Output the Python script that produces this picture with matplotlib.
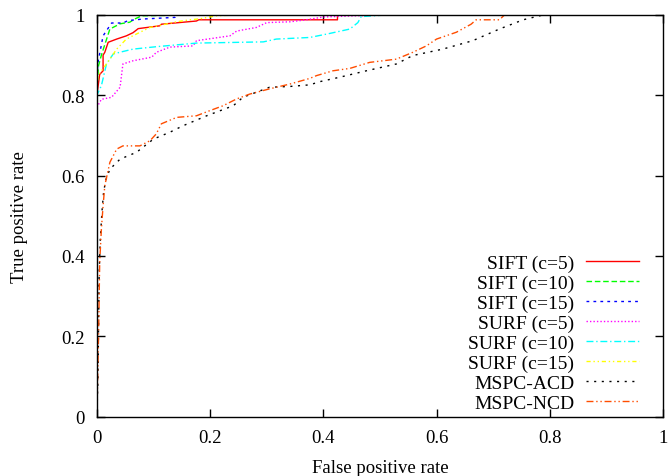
import matplotlib.pyplot as plt

plt.rcParams['font.family'] = ['Liberation Serif', 'DejaVu Serif']

# ROC curves (false positive rate, true positive rate)
sift5_x = [0, 0, 0.005, 0.011, 0.011, 0.014, 0.02, 0.035, 0.052, 0.064, 0.073, 0.111, 0.114, 0.176,
           0.18, 0.425, 0.425, 0.662]
sift5_y = [0, 0.80, 0.852, 0.861, 0.90, 0.907, 0.932, 0.94, 0.948, 0.956, 0.966, 0.973, 0.977, 0.985,
           0.988, 0.988, 1.0, 1.0]

sift10_x = [0, 0, 0.003, 0.008, 0.023, 0.041, 0.058, 0.067, 0.079, 0.17]
sift10_y = [0, 0.82, 0.874, 0.90, 0.965, 0.978, 0.982, 0.99, 0.998, 1.0]

sift15_x = [0, 0, 0.002, 0.011, 0.026, 0.046, 0.055, 0.082, 0.138, 0.141, 0.17]
sift15_y = [0, 0.84, 0.882, 0.948, 0.98, 0.98, 0.986, 0.99, 0.994, 1.0, 1.0]

surf5_x = [0, 0, 0.008, 0.026, 0.041, 0.046, 0.064, 0.097, 0.105, 0.129, 0.17, 0.176,
           0.235, 0.247, 0.282, 0.3, 0.341, 0.37, 0.40, 0.46, 0.51]
surf5_y = [0, 0.77, 0.79, 0.795, 0.82, 0.878, 0.886, 0.895, 0.907, 0.92, 0.923, 0.936,
           0.948, 0.96, 0.969, 0.981, 0.983, 0.988, 0.995, 0.998, 1.0]

surf10_x = [0, 0, 0.008, 0.017, 0.029, 0.046, 0.064, 0.105, 0.176, 0.294, 0.317, 0.376,
            0.408, 0.447, 0.461, 0.467, 0.511]
surf10_y = [0, 0.80, 0.824, 0.878, 0.903, 0.909, 0.915, 0.921, 0.93, 0.933, 0.94, 0.944,
            0.953, 0.965, 0.981, 0.996, 1.0]

surf15_x = [0, 0, 0.002, 0.023, 0.035, 0.052, 0.082, 0.094, 0.141, 0.164, 0.18, 0.211, 0.247]
surf15_y = [0, 0.82, 0.849, 0.89, 0.915, 0.94, 0.961, 0.969, 0.983, 0.988, 0.99, 0.998, 1.0]

acd_x = [0, 0.002, 0.004, 0.006, 0.009, 0.012, 0.016, 0.023, 0.041, 0.07, 0.1, 0.129, 0.152,
         0.194, 0.241, 0.258, 0.305, 0.341, 0.376, 0.394, 0.429, 0.476, 0.529, 0.558,
         0.611, 0.664, 0.711, 0.753, 0.788]
acd_y = [0, 0.10, 0.351, 0.44, 0.51, 0.56, 0.59, 0.616, 0.641, 0.658, 0.691, 0.708, 0.724,
         0.749, 0.774, 0.795, 0.82, 0.822, 0.826, 0.834, 0.845, 0.861, 0.878, 0.899,
         0.915, 0.936, 0.965, 0.988, 1.0]

ncd_x = [0, 0.001, 0.003, 0.005, 0.008, 0.011, 0.014, 0.023, 0.035, 0.046, 0.076, 0.094,
         0.105, 0.114, 0.141, 0.176, 0.2, 0.223, 0.247, 0.27, 0.305, 0.341, 0.376, 0.388,
         0.417, 0.447, 0.482, 0.529, 0.558, 0.582, 0.6, 0.635, 0.661, 0.67, 0.711, 0.72]
ncd_y = [0, 0.068, 0.2, 0.384, 0.467, 0.525, 0.575, 0.633, 0.666, 0.674, 0.674, 0.687,
         0.704, 0.729, 0.745, 0.749, 0.762, 0.774, 0.791, 0.803, 0.816, 0.828, 0.842, 0.849,
         0.861, 0.867, 0.882, 0.89, 0.907, 0.923, 0.94, 0.957, 0.977, 0.988, 0.988, 1.0]

fig = plt.figure(figsize=(6.68, 4.77), dpi=100)
ax = fig.add_axes([0.145, 0.1247, 0.8475, 0.8418])

lw = 1.0
ax.plot(sift5_x, sift5_y, color='#ff0000', lw=lw, label='SIFT (c=5)')
ax.plot(sift10_x, sift10_y, color='#00ff00', lw=lw, ls=(0, (4, 2)), label='SIFT (c=10)')
ax.plot(sift15_x, sift15_y, color='#0000ff', lw=lw, ls=(0, (2, 3)), label='SIFT (c=15)')
ax.plot(surf5_x, surf5_y, color='#ff00ff', lw=lw, ls=(0, (1, 1.5)), label='SURF (c=5)')
ax.plot(surf10_x, surf10_y, color='#00ffff', lw=lw, ls=(0, (5, 2, 1, 2)), label='SURF (c=10)')
ax.plot(surf15_x, surf15_y, color='#ffff00', lw=lw, ls=(0, (3, 2, 1, 2, 1, 2)), label='SURF (c=15)')
ax.plot(acd_x, acd_y, color='black', lw=lw, ls=(0, (1.5, 4)), label='MSPC-ACD')
ax.plot(ncd_x, ncd_y, color='#ff4d00', lw=lw, ls=(0, (5, 2, 1, 2, 1, 2)), label='MSPC-NCD')

ax.set_xlim(0, 1)
ax.set_ylim(0, 1)
ticks = [0, 0.2, 0.4, 0.6, 0.8, 1]
tick_labels = ['0', '0.2', '0.4', '0.6', '0.8', '1']
ax.set_xticks(ticks)
ax.set_yticks(ticks)
ax.set_xticklabels(tick_labels)
ax.set_yticklabels(tick_labels)
ax.tick_params(direction='in', length=6, width=1, top=True, right=True, labelsize=13.5)
ax.tick_params(axis='x', pad=9)
ax.tick_params(axis='y', pad=9)
for s in ax.spines.values():
    s.set_linewidth(1.0)

ax.set_xlabel('False positive rate', fontsize=13.5, labelpad=9)
ax.set_ylabel('True positive rate', fontsize=13.5, labelpad=24)

ax.legend(loc='lower right', bbox_to_anchor=(0.9585, 0.012), markerfirst=False, frameon=False,
          fontsize=14, handlelength=2.75, labelspacing=0.12, borderaxespad=0, borderpad=0,
          handletextpad=0.6)
for t in ax.get_legend().get_texts():
    t.set_ha('right')

fig.savefig('out.png', dpi=100)
